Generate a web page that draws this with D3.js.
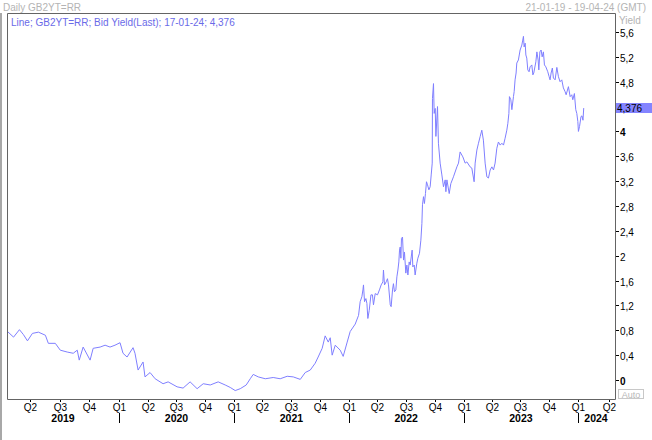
<!DOCTYPE html>
<html><head><meta charset="utf-8">
<script src="https://cdn.jsdelivr.net/npm/d3@7"></script>
<style>
body{margin:0;background:#fff}
svg{display:block}
text{font-family:"Liberation Sans",Arial,sans-serif}
</style>
</head><body>
<svg id="c" width="652" height="440"></svg>
<script>
// ---- DATA (decimal years, bid yield %) ----
const times = [
2019.055,2019.106,2019.156,2019.190,2019.224,2019.266,2019.317,2019.376,2019.401,2019.460,
2019.502,2019.561,2019.612,2019.646,2019.663,2019.696,2019.755,2019.781,2019.840,2019.882,
2019.924,2019.966,2020.009,2020.035,2020.070,2020.122,2020.139,2020.166,2020.209,2020.226,
2020.270,2020.314,2020.383,2020.427,2020.505,2020.557,2020.618,2020.679,2020.732,2020.793,
2020.862,2020.923,2020.967,2021.010,2021.054,2021.106,2021.141,2021.167,2021.211,2021.272,
2021.341,2021.402,2021.463,2021.516,2021.577,2021.620,2021.664,2021.707,2021.733,2021.768,
2021.794,2021.821,2021.838,2021.855,2021.882,2021.925,2021.951,2021.986,2022.012,2022.056,
2022.085,2022.099,2022.114,2022.123,2022.128,2022.137,2022.149,2022.158,2022.166,2022.178,
2022.193,2022.206,2022.215,2022.230,2022.250,2022.267,2022.282,2022.297,2022.302,2022.311,
2022.326,2022.337,2022.346,2022.361,2022.369,2022.381,2022.389,2022.398,2022.410,2022.419,
2022.428,2022.436,2022.442,2022.448,2022.454,2022.459,2022.468,2022.477,2022.485,2022.497,
2022.506,2022.515,2022.526,2022.535,2022.544,2022.552,2022.558,2022.570,2022.578,2022.593,
2022.602,2022.616,2022.628,2022.637,2022.642,2022.651,2022.659,2022.668,2022.677,2022.686,
2022.698,2022.709,2022.718,2022.727,2022.729,2022.738,2022.744,2022.753,2022.759,2022.773,
2022.781,2022.796,2022.811,2022.825,2022.840,2022.846,2022.855,2022.875,2022.889,2022.912,
2022.942,2022.956,2022.970,2022.994,2023.014,2023.029,2023.057,2023.072,2023.092,2023.101,
2023.116,2023.130,2023.145,2023.159,2023.173,2023.188,2023.203,2023.217,2023.232,2023.247,
2023.261,2023.275,2023.290,2023.304,2023.319,2023.334,2023.348,2023.362,2023.377,2023.386,
2023.395,2023.400,2023.412,2023.421,2023.435,2023.441,2023.449,2023.458,2023.464,2023.478,
2023.493,2023.508,2023.516,2023.522,2023.528,2023.537,2023.543,2023.551,2023.560,2023.571,
2023.580,2023.595,2023.604,2023.612,2023.630,2023.639,2023.650,2023.656,2023.665,2023.676,
2023.685,2023.696,2023.705,2023.717,2023.734,2023.746,2023.754,2023.763,2023.774,2023.783,
2023.798,2023.813,2023.827,2023.841,2023.856,2023.870,2023.885,2023.894,2023.914,2023.929,
2023.943,2023.952,2023.966,2023.978,2023.987,2023.996,2024.001,2024.010,2024.022,2024.030,
2024.038,2024.044
];
const yields = [
0.78,0.69,0.81,0.73,0.63,0.75,0.77,0.72,0.59,0.59,
0.48,0.45,0.43,0.48,0.32,0.53,0.32,0.51,0.53,0.56,
0.53,0.56,0.60,0.43,0.37,0.52,0.43,0.16,0.29,0.05,
0.12,0.02,-0.06,-0.03,-0.11,-0.13,-0.03,-0.14,-0.06,-0.08,
-0.03,-0.08,-0.12,-0.17,-0.14,-0.08,0.02,0.09,0.05,0.02,
0.04,0.02,0.06,0.05,0.01,0.12,0.16,0.27,0.37,0.51,
0.71,0.61,0.68,0.40,0.56,0.48,0.38,0.61,0.78,0.90,
1.04,1.26,1.34,1.45,1.53,1.26,1.31,1.23,0.99,1.12,
1.37,1.37,1.21,1.39,1.37,1.45,1.53,1.58,1.77,1.53,
1.58,1.63,1.53,1.21,1.18,1.45,1.55,1.42,1.45,1.66,
1.77,1.90,2.09,2.14,1.96,2.28,2.30,1.93,2.06,1.72,
1.85,1.69,1.90,1.85,1.98,2.09,1.82,1.85,1.69,1.88,
1.96,2.04,2.25,2.52,2.82,2.95,2.84,3.00,3.19,3.14,
3.06,3.11,3.30,3.49,4.53,4.77,4.29,4.37,3.92,4.40,
3.81,3.49,3.30,3.11,3.22,3.03,3.22,3.00,3.16,3.27,
3.43,3.49,3.67,3.59,3.49,3.51,3.43,3.41,3.19,3.49,
3.70,3.81,3.92,4.02,3.86,3.49,3.27,3.25,3.38,3.43,
3.38,3.49,3.73,3.83,3.78,3.81,3.78,3.89,4.02,4.13,
4.29,4.56,4.51,4.35,4.56,4.64,4.83,4.94,5.10,5.15,
5.31,5.39,5.47,5.53,5.36,5.42,5.23,5.18,4.99,4.96,
5.04,5.07,4.91,4.94,5.12,5.28,5.15,4.99,5.28,5.31,
5.20,5.28,5.07,5.04,4.96,4.88,4.83,4.94,5.02,4.86,
4.83,5.03,4.88,4.80,4.83,4.70,4.64,4.59,4.72,4.56,
4.59,4.51,4.61,4.35,4.29,4.16,4.00,4.08,4.24,4.25,
4.18,4.376
];
const yTicks = [0,0.4,0.8,1.2,1.6,2,2.4,2.8,3.2,3.6,4,4.4,4.8,5.2,5.6];
const boldTicks = [0,4];
const quarterNames = ["Q1","Q2","Q3","Q4"];
const rangeStart = "2019-01-21", rangeEnd = "2024-04-19";
const lastLabel = "4,376";
const titleText = "Daily GB2YT=RR";
const legendText = "Line; GB2YT=RR; Bid Yield(Last); 17-01-24; 4,376";
const rangeText = "21-01-19 - 19-04-24 (GMT)";
const yAxisName = "Yield";

// ---- LAYOUT ----
const L = 7, R = 615, T = 13, B = 399;
const svg = d3.select("#c");

function fromDecimal(v){
  const Y = Math.floor(v), a = Date.UTC(Y,0,1), b = Date.UTC(Y+1,0,1);
  return new Date(a + (v - Y) * (b - a));
}
const data = times.map((t,i)=>({d:fromDecimal(t), v:yields[i]}));

const d0 = new Date(rangeStart), d3end = new Date(rangeEnd);
const x = d3.scaleUtc()
  .domain([d0, new Date(Date.UTC(2020,0,1)), new Date(Date.UTC(2024,0,1)), d3end])
  .range([L+0.5, 119, 578.3, R]);
const y = d3.scaleLinear().domain([0, 5.6]).range([380, 32]);

// outer left border
svg.append("rect").attr("x",0).attr("y",T).attr("width",2).attr("height",440-T).attr("fill","#a8a8a8");

// header texts
svg.append("text").attr("x",3).attr("y",11).attr("font-size",10).attr("fill","#b4b4b4").text(titleText);
svg.append("text").attr("x",646).attr("y",11).attr("text-anchor","end").attr("font-size",10).attr("fill","#b4b4b4").text(rangeText);
svg.append("text").attr("x",619).attr("y",24).attr("font-size",10).attr("fill","#b4b4b4").text(yAxisName);

// frame
svg.append("path").attr("d",`M${L+0.5},${B+0.5}V${T+0.5}H${R+0.5}V${B+0.5}Z`)
  .attr("fill","none").attr("stroke","#646464").attr("stroke-width",1);

// line
svg.append("clipPath").attr("id","pc").append("rect")
  .attr("x",L+1).attr("y",T+1).attr("width",R-L-1).attr("height",B-T-1);
svg.append("path").datum(data)
  .attr("clip-path","url(#pc)")
  .attr("fill","none").attr("stroke","#7f7fff").attr("stroke-width",1)
  .attr("d", d3.line().x(d=>x(d.d)).y(d=>y(d.v)));

svg.append("text").attr("x",11).attr("y",26).attr("font-size",10).attr("fill","#6a6ae8").text(legendText);

// last value tag position
const lastY = y(yields[yields.length-1]);

// y axis (right)
const fmt = v => (Number.isInteger(v) ? String(v) : d3.format(".1f")(v).replace(".",","));
const yg = svg.append("g");
yTicks.forEach(v=>{
  const yy = Math.round(y(v)) + 0.5;
  yg.append("line").attr("x1",R+1).attr("x2",R+4).attr("y1",yy).attr("y2",yy).attr("stroke","#000");
  if (Math.abs(yy - lastY) < 8) return; // hidden under the last-value tag
  yg.append("text").attr("x",R+5).attr("y",yy+4.5).attr("font-size",10)
    .attr("font-weight", boldTicks.includes(v) ? "bold" : "normal")
    .attr("fill","#000").text(fmt(v));
});

// last value tag
svg.append("rect").attr("x",R+1).attr("y",Math.round(lastY)-5).attr("width",36).attr("height",10).attr("fill","#8484ff");
svg.append("text").attr("x",R+2).attr("y",Math.round(lastY)+3.5).attr("font-size",10).attr("fill","#000").text(lastLabel);

// Auto box
svg.append("rect").attr("x",618.5).attr("y",389.5).attr("width",25).attr("height",9).attr("fill","#fff").attr("stroke","#c8c8c8");
svg.append("text").attr("x",631).attr("y",397.5).attr("text-anchor","middle").attr("font-size",9).attr("fill","#b8b8b8").text("Auto");

// x axis: quarters
const quarters = d3.utcMonth.every(3).range(d0, d3end).filter(d=>x(d)>=L && x(d)<=R);
const xg = svg.append("g");
quarters.forEach(d=>{
  const xx = Math.round(x(d)) + 0.5;
  xg.append("line").attr("x1",xx).attr("x2",xx).attr("y1",B+1).attr("y2",B+3).attr("stroke","#000");
  xg.append("text").attr("x",xx).attr("y",B+12).attr("text-anchor","middle").attr("font-size",10)
    .attr("fill","#000").text(quarterNames[Math.floor(d.getUTCMonth()/3)]);
});
// years
const y0 = d0.getUTCFullYear(), y1 = d3end.getUTCFullYear();
d3.range(y0, y1+1).forEach(Y=>{
  const s = x(new Date(Date.UTC(Y,0,1))), e = x(new Date(Date.UTC(Y+1,0,1)));
  if (s > L) {
    const xx = Math.round(s) + 0.5;
    xg.append("line").attr("x1",xx).attr("x2",xx).attr("y1",B+14).attr("y2",B+24).attr("stroke","#000");
  }
  const cx = (Math.max(s, L) + Math.min(e, R)) / 2;
  xg.append("text").attr("x", Y===y1 ? Math.max(s, L)+6 : cx).attr("y",B+23)
    .attr("text-anchor", Y===y1 ? "start" : "middle").attr("font-size",10.5).attr("font-weight","bold")
    .attr("fill","#000").text(Y);
});
</script>
</body></html>
